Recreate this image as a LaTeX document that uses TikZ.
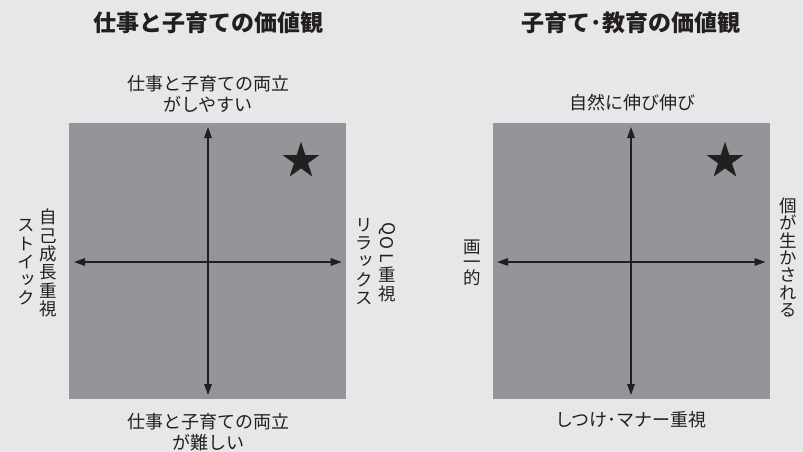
\documentclass[tikz,border=0pt]{standalone}
\usepackage{fontspec}
\setmainfont{Noto Sans CJK JP}
\newfontfamily\jpv{Noto Sans CJK JP}[RawFeature=+vert]
\usetikzlibrary{arrows.meta,shapes.geometric}
\definecolor{bgc}{HTML}{E6E7E8}
\definecolor{sqc}{HTML}{939598}
\definecolor{ink}{HTML}{231F20}
\newcommand\rl[1]{\rotatebox[origin=c]{-90}{#1}}
\begin{document}
\begin{tikzpicture}[x=1pt,y=-1pt,
  every node/.style={inner sep=0pt,text=ink},
  sq/.style={fill=sqc,draw=none,minimum width=277pt,minimum height=276pt},
  ttl/.style={font=\fontsize{23}{26}\selectfont\bfseries},
  lbl/.style={font=\fontsize{18}{21}\selectfont,align=center},
  vlbl/.style={font=\jpv\fontsize{17.5}{18.3}\selectfont,align=center},
  axis/.style={draw=ink,line width=1.4pt,{Triangle[length=11pt,width=7.5pt]}-{Triangle[length=11pt,width=7.5pt]}},
  starmark/.style={star,star points=5,star point ratio=2.618,fill=ink,draw=none,minimum size=38.6pt,inner sep=0pt}]
\fill[bgc] (0,0) rectangle (803,452);
\useasboundingbox (0,0) rectangle (803,452);
% ---------- left chart
\node[ttl] (t1) at (208,23) {仕事と子育ての価値観};
\node[sq] (L) at (207.8,261.3) {};
\coordinate (Lt) at (208,127);
\coordinate (Lb) at (208,395);
\coordinate (Ll) at (74,262);
\coordinate (Lr) at (341.7,262);
\draw[axis] (Lt) -- (Lb);
\draw[axis] (Ll) -- (Lr);
\node[starmark] (s1) at (301,161) {};
\node[lbl] (l1t) at (208,93.5) {仕事と子育ての両立\\がしやすい};
\node[lbl] (l1b) at (208,432) {仕事と子育ての両立\\が難しい};
\node[vlbl] (l1a) at (48.5,263) {自\\己\\成\\長\\重\\視};
\node[vlbl] (l1c) at (26,262.5) {ス\\ト\\イ\\ッ\\ク};
\node[vlbl] (l1d) at (387,262) {\rl{Q}\\[-3pt]\rl{O}\\[-3pt]\rl{L}\\[-1pt]重\\視};
\node[vlbl] (l1e) at (364,261.5) {リ\\ラ\\ッ\\ク\\ス};
% ---------- right chart
\node[ttl] (t2) at (631,23) {子育て･教育の価値観};
\node[sq] (R) at (631.1,261.3) {};
\coordinate (Rt) at (631,127);
\coordinate (Rb) at (631,395);
\coordinate (Rl) at (497,262);
\coordinate (Rr) at (765.5,262);
\draw[axis] (Rt) -- (Rb);
\draw[axis] (Rl) -- (Rr);
\node[starmark] (s2) at (725,161) {};
\node[lbl] (r1t) at (632,103) {自然に伸び伸び};
\node[lbl] (r1b) at (631,420) {しつけ･マナー重視};
\node[vlbl,font=\jpv\fontsize{17.5}{15.5}\selectfont] (r1l) at (472,262.5) {画\\一\\的};
\node[vlbl,font=\jpv\fontsize{17.5}{17.3}\selectfont] (r1r) at (788,257.5) {個\\が\\生\\か\\さ\\れ\\る};
\end{tikzpicture}
\end{document}
